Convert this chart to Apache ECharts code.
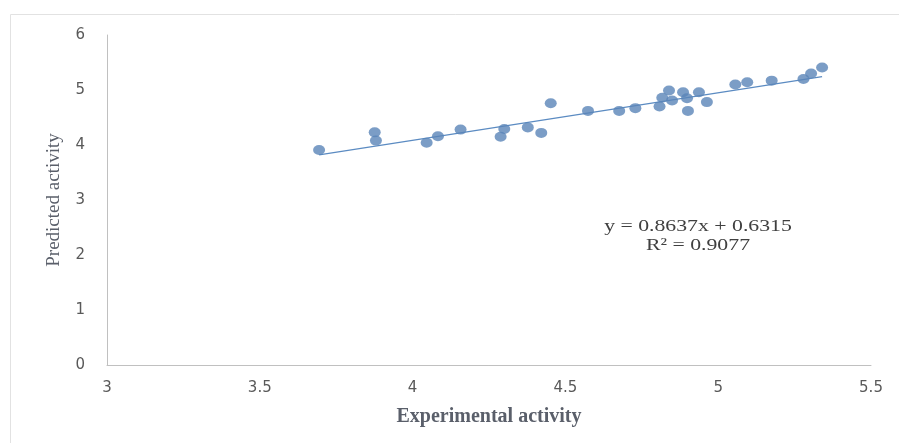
<!DOCTYPE html>
<html>
<head>
<meta charset="utf-8">
<script src="https://cdn.jsdelivr.net/npm/echarts@6/dist/echarts.min.js"></script>
<style>html,body{margin:0;padding:0;background:#fff;}#c{width:899px;height:443px;}</style>
</head>
<body>
<div id="c"></div>
<script>
var experimental = [3.694,3.876,3.880,4.046,4.083,4.157,4.288,4.300,4.377,4.421,4.452,4.574,4.676,4.729,4.808,4.817,4.839,4.849,4.885,4.898,4.901,4.937,4.963,5.056,5.095,5.175,5.279,5.304,5.340];
var predicted    = [3.91,4.23,4.08,4.04,4.16,4.28,4.15,4.29,4.32,4.22,4.76,4.62,4.62,4.67,4.70,4.86,4.99,4.81,4.96,4.85,4.62,4.96,4.78,5.10,5.14,5.17,5.20,5.30,5.41];
var slope = 0.8637, intercept = 0.6315;
var xTicks = [3, 3.5, 4, 4.5, 5, 5.5];
var yTicks = [0, 1, 2, 3, 4, 5, 6];

var points = experimental.map(function(x, i){ return [x, predicted[i]]; });
var xmin = Math.min.apply(null, experimental), xmax = Math.max.apply(null, experimental);
var trend = [[xmin, slope*xmin+intercept],[xmax, slope*xmax+intercept]];

var chart = echarts.init(document.getElementById('c'), null, {renderer:'canvas'});
chart.setOption({
  animation:false,
  backgroundColor:'#fff',
  grid:{left:107, right:28, top:35, bottom:78},
  xAxis:{
    type:'value', min:3, max:5.5, interval:0.5,
    name:'Experimental activity', nameLocation:'middle', nameGap:42,
    nameTextStyle:{fontFamily:'Liberation Serif', fontWeight:'bold', fontSize:20, color:'#5a5f6a'},
    axisLine:{show:true, onZero:false, lineStyle:{color:'#c0c0c0', width:1}},
    axisTick:{show:false}, splitLine:{show:false},
    axisLabel:{margin:16, fontFamily:'DejaVu Sans', fontSize:15, color:'#595959',
      formatter:function(v){ return xTicks.indexOf(v)>=0 ? String(v) : ''; }}
  },
  yAxis:{
    type:'value', min:0, max:6, interval:1,
    name:'Predicted activity', nameLocation:'middle', nameGap:43,
    nameTextStyle:{fontFamily:'Liberation Serif', fontSize:19, color:'#5a5f6a'},
    axisLine:{show:true, onZero:false, lineStyle:{color:'#c0c0c0', width:1}},
    axisTick:{show:false}, splitLine:{show:false},
    axisLabel:{margin:22, fontFamily:'DejaVu Sans', fontSize:15, color:'#595959',
      formatter:function(v){ return yTicks.indexOf(v)>=0 ? String(v) : ''; }}
  },
  graphic:[
    {type:'rect', shape:{x:10.5, y:14.5, width:1000, height:1000}, style:{fill:'none', stroke:'#e2e2e2', lineWidth:1}, z:-1},
    {type:'text', x:698, y:227, scaleX:1.28, style:{text:'y = 0.8637x + 0.6315', font:'17px "Liberation Serif"', fill:'#404040', textAlign:'center', textVerticalAlign:'middle'}},
    {type:'text', x:698, y:246, scaleX:1.28, style:{text:'R² = 0.9077', font:'17px "Liberation Serif"', fill:'#404040', textAlign:'center', textVerticalAlign:'middle'}}
  ],
  series:[
    {type:'line', data:trend, symbol:'none', silent:true,
      lineStyle:{color:'#5b8bc2', width:1.2}, z:1},
    {type:'scatter', data:points, symbol:'circle', symbolSize:[12,10],
      itemStyle:{color:'#5a84b8'}, z:2}
  ]
});
</script>
</body>
</html>
